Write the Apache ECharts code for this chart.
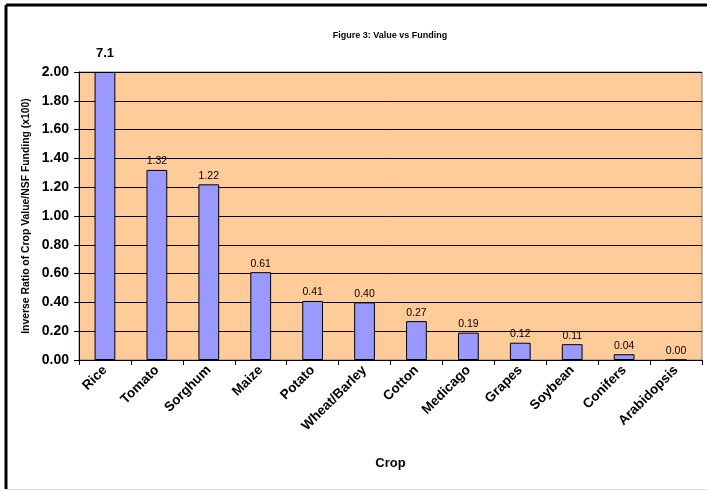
<!DOCTYPE html>
<html>
<head>
<meta charset="utf-8">
<script src="https://cdn.jsdelivr.net/npm/echarts@6/dist/echarts.min.js"></script>
<style>
    html, body { margin: 0; padding: 0; background: #fff; }
    #chart { width: 707px; height: 491px; }
</style>
</head>
<body>
<div id="chart"></div>
<script>
const crops = ['Rice', 'Tomato', 'Sorghum', 'Maize', 'Potato', 'Wheat/Barley', 'Cotton', 'Medicago', 'Grapes', 'Soybean', 'Conifers', 'Arabidopsis']
const ratios = [7.1, 1.32, 1.22, 0.61, 0.41, 0.40, 0.27, 0.19, 0.12, 0.11, 0.04, 0.00]
const yMax = 2
const yStep = 0.2

const myChart = echarts.init(document.getElementById('chart'))

// bars taller than the axis are cut at the top, the label keeps the real value
const barData = ratios.map((v, i) => {
    const item = { value: Math.min(v, yMax), raw: v }
    if (v > yMax) {
        item.label = { fontWeight: 'bold', fontSize: 13, distance: 12 }
    }
    return item
})

const option = {
    animation: false,
    backgroundColor: '#fff',
    textStyle: { fontFamily: 'Liberation Sans, Arial, sans-serif', color: '#000' },
    title: {
        text: 'Figure 3: Value vs Funding',
        left: 385,
        top: 26,
        textAlign: 'center',
        textStyle: { fontSize: 9, fontWeight: 'bold', color: '#000' }
    },
    grid: {
        left: 79,
        right: 5,
        top: 72,
        bottom: 131,
        show: true,
        backgroundColor: '#FFCC99',
        borderColor: '#808080',
        borderWidth: 1
    },
    xAxis: {
        type: 'category',
        data: crops,
        name: 'Crop',
        nameLocation: 'middle',
        nameGap: 97,
        nameTextStyle: { fontSize: 13, fontWeight: 'bold', color: '#000' },
        axisLine: { lineStyle: { color: '#000', width: 1 } },
        axisTick: { show: true, length: 5, lineStyle: { color: '#000' } },
        axisLabel: {
            rotate: 45,
            interval: 0,
            margin: 8,
            fontSize: 13.5,
            fontWeight: 'bold',
            color: '#000'
        }
    },
    yAxis: {
        type: 'value',
        min: 0,
        max: yMax,
        interval: yStep,
        name: 'Inverse Ratio of Crop Value/NSF Funding (x100)',
        nameLocation: 'middle',
        nameGap: 46,
        nameTextStyle: { fontSize: 10.4, fontWeight: 'bold', color: '#000' },
        axisLine: { show: true, lineStyle: { color: '#000', width: 1 } },
        axisTick: { show: true, length: 5, lineStyle: { color: '#000' } },
        axisLabel: {
            fontSize: 14,
            fontWeight: 'bold',
            color: '#000',
            margin: 10,
            formatter: v => v.toFixed(2)
        },
        splitLine: { lineStyle: { color: '#000', width: 1 } }
    },
    series: [{
        type: 'bar',
        data: barData,
        barCategoryGap: '60%',
        itemStyle: { color: '#9999FF', borderColor: '#000', borderWidth: 1 },
        label: {
            show: true,
            position: 'top',
            distance: 3,
            fontSize: 10.5,
            color: '#000',
            formatter: p => p.data.raw.toFixed(p.data.raw > yMax ? 1 : 2)
        }
    }],
    graphic: [
        { type: 'line', shape: { x1: 6, y1: 5, x2: 707, y2: 5 }, style: { stroke: '#000', lineWidth: 3 } },
        { type: 'line', shape: { x1: 6, y1: 5, x2: 6, y2: 489 }, style: { stroke: '#000', lineWidth: 3 } },
        { type: 'line', shape: { x1: 6, y1: 489.5, x2: 707, y2: 489.5 }, style: { stroke: '#ddd', lineWidth: 1 } }
    ]
}

myChart.setOption(option)
</script>
</body>
</html>
